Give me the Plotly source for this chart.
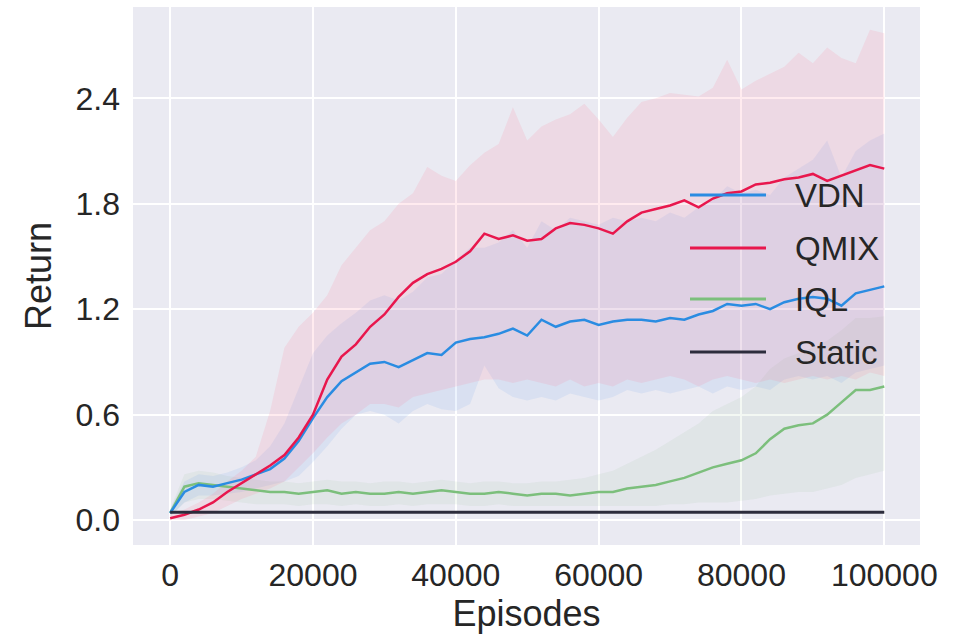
import plotly.graph_objects as go

# ---------------- data ----------------
episodes = [0, 2000, 4000, 6000, 8000, 10000, 12000, 14000, 16000, 18000,
            20000, 22000, 24000, 26000, 28000, 30000, 32000, 34000, 36000, 38000,
            40000, 42000, 44000, 46000, 48000, 50000, 52000, 54000, 56000, 58000,
            60000, 62000, 64000, 66000, 68000, 70000, 72000, 74000, 76000, 78000,
            80000, 82000, 84000, 86000, 88000, 90000, 92000, 94000, 96000, 98000,
            100000]

qmix_mean = [0.01, 0.03, 0.06, 0.10, 0.16, 0.21, 0.26, 0.31, 0.37, 0.47,
             0.60, 0.80, 0.93, 1.00, 1.10, 1.17, 1.27, 1.35, 1.40, 1.43,
             1.47, 1.53, 1.63, 1.60, 1.62, 1.59, 1.60, 1.66, 1.69, 1.68,
             1.66, 1.63, 1.70, 1.75, 1.77, 1.79, 1.82, 1.78, 1.83, 1.86,
             1.87, 1.91, 1.92, 1.94, 1.95, 1.97, 1.93, 1.96, 1.99, 2.02,
             2.00]
qmix_hi = [0.03, 0.06, 0.10, 0.15, 0.22, 0.28, 0.36, 0.62, 0.98, 1.10,
           1.18, 1.28, 1.45, 1.55, 1.65, 1.70, 1.80, 1.86, 2.01, 1.96,
           1.93, 2.02, 2.09, 2.14, 2.35, 2.16, 2.24, 2.28, 2.31, 2.37,
           2.28, 2.18, 2.29, 2.38, 2.40, 2.43, 2.42, 2.41, 2.46, 2.62,
           2.45, 2.50, 2.54, 2.58, 2.66, 2.60, 2.69, 2.63, 2.60, 2.79,
           2.77]
qmix_lo = [0.00, 0.00, 0.02, 0.04, 0.08, 0.12, 0.15, 0.18, 0.22, 0.30,
           0.38, 0.47, 0.55, 0.60, 0.66, 0.66, 0.64, 0.70, 0.72, 0.74,
           0.76, 0.78, 0.80, 0.80, 0.78, 0.80, 0.78, 0.76, 0.80, 0.76,
           0.78, 0.76, 0.80, 0.78, 0.80, 0.82, 0.80, 0.76, 0.80, 0.82,
           0.80, 0.78, 0.80, 0.78, 0.80, 0.82, 0.80, 0.82, 0.80, 0.84,
           0.82]

vdn_mean = [0.04, 0.16, 0.20, 0.19, 0.21, 0.23, 0.26, 0.29, 0.35, 0.45,
            0.58, 0.70, 0.79, 0.84, 0.89, 0.90, 0.87, 0.91, 0.95, 0.94,
            1.01, 1.03, 1.04, 1.06, 1.09, 1.05, 1.14, 1.10, 1.13, 1.14,
            1.11, 1.13, 1.14, 1.14, 1.13, 1.15, 1.14, 1.17, 1.19, 1.23,
            1.22, 1.23, 1.20, 1.24, 1.26, 1.27, 1.26, 1.22, 1.29, 1.31,
            1.33]
vdn_hi = [0.06, 0.22, 0.26, 0.25, 0.27, 0.30, 0.34, 0.42, 0.55, 0.75,
          0.95, 1.05, 1.12, 1.18, 1.25, 1.28, 1.25, 1.30, 1.38, 1.40,
          1.48, 1.55, 1.55, 1.58, 1.65, 1.55, 1.70, 1.65, 1.72, 1.70,
          1.68, 1.72, 1.70, 1.72, 1.70, 1.75, 1.72, 1.78, 1.82, 1.90,
          1.86, 1.88, 1.85, 1.95, 2.00, 2.05, 2.16, 1.95, 2.10, 2.16,
          2.20]
vdn_lo = [0.02, 0.10, 0.14, 0.14, 0.15, 0.16, 0.18, 0.20, 0.22, 0.25,
          0.33, 0.42, 0.52, 0.60, 0.62, 0.60, 0.55, 0.62, 0.66, 0.63,
          0.62, 0.66, 0.88, 0.75, 0.70, 0.68, 0.70, 0.68, 0.72, 0.70,
          0.68, 0.70, 0.74, 0.72, 0.74, 0.72, 0.74, 0.76, 0.72, 0.76,
          0.74, 0.76, 0.74, 0.80, 0.82, 0.80, 0.82, 0.78, 0.84, 0.86,
          0.88]

iql_mean = [0.04, 0.19, 0.21, 0.20, 0.19, 0.18, 0.17, 0.16, 0.16, 0.15,
            0.16, 0.17, 0.15, 0.16, 0.15, 0.15, 0.16, 0.15, 0.16, 0.17,
            0.16, 0.15, 0.15, 0.16, 0.15, 0.14, 0.15, 0.15, 0.14, 0.15,
            0.16, 0.16, 0.18, 0.19, 0.20, 0.22, 0.24, 0.27, 0.30, 0.32,
            0.34, 0.38, 0.46, 0.52, 0.54, 0.55, 0.60, 0.67, 0.74, 0.74,
            0.76]
iql_hi = [0.06, 0.26, 0.28, 0.27, 0.25, 0.24, 0.23, 0.22, 0.22, 0.21,
          0.22, 0.23, 0.22, 0.22, 0.21, 0.22, 0.22, 0.21, 0.22, 0.23,
          0.22, 0.21, 0.22, 0.22, 0.21, 0.21, 0.22, 0.22, 0.23, 0.24,
          0.26, 0.28, 0.32, 0.36, 0.40, 0.45, 0.50, 0.55, 0.62, 0.66,
          0.70, 0.76, 0.86, 0.92, 0.95, 0.98, 1.02, 1.08, 1.15, 1.15,
          1.16]
iql_lo = [0.02, 0.10, 0.12, 0.12, 0.11, 0.10, 0.09, 0.09, 0.09, 0.08,
          0.09, 0.09, 0.08, 0.09, 0.08, 0.08, 0.09, 0.08, 0.09, 0.09,
          0.09, 0.08, 0.08, 0.09, 0.08, 0.08, 0.08, 0.08, 0.08, 0.08,
          0.08, 0.08, 0.08, 0.08, 0.08, 0.09, 0.09, 0.10, 0.10, 0.10,
          0.11, 0.12, 0.14, 0.15, 0.16, 0.16, 0.18, 0.20, 0.24, 0.26,
          0.28]

static_x = [0, 100000]
static_y = [0.045, 0.045]

series_names = ["VDN", "QMIX", "IQL", "Static"]
x_ticks = [0, 20000, 40000, 60000, 80000, 100000]
y_ticks = [0.0, 0.6, 1.2, 1.8, 2.4]
y_tick_labels = ["0.0", "0.6", "1.2", "1.8", "2.4"]

# ---------------- styles ----------------
C_VDN = "#2a8ce2"
C_QMIX = "#e8174d"
C_IQL = "#7cbf7c"
C_STATIC = "#2c2c3c"
TXT = "#262626"
FONT = "Liberation Sans, Arial, sans-serif"

fig = go.Figure()


def band(x, lo, hi, color):
    fig.add_trace(go.Scatter(x=x, y=lo, mode="lines", line=dict(width=0),
                             showlegend=False, hoverinfo="skip"))
    fig.add_trace(go.Scatter(x=x, y=hi, mode="lines", line=dict(width=0),
                             fill="tonexty", fillcolor=color,
                             showlegend=False, hoverinfo="skip"))


band(episodes, iql_lo, iql_hi, "rgba(140,190,140,0.10)")
band(episodes, vdn_lo, vdn_hi, "rgba(80,150,235,0.11)")
band(episodes, qmix_lo, qmix_hi, "rgba(255,120,150,0.15)")

fig.add_trace(go.Scatter(x=episodes, y=iql_mean, mode="lines", name="IQL",
                         line=dict(color=C_IQL, width=2.5), showlegend=False))
fig.add_trace(go.Scatter(x=episodes, y=vdn_mean, mode="lines", name="VDN",
                         line=dict(color=C_VDN, width=2.5), showlegend=False))
fig.add_trace(go.Scatter(x=episodes, y=qmix_mean, mode="lines", name="QMIX",
                         line=dict(color=C_QMIX, width=2.5), showlegend=False))
fig.add_trace(go.Scatter(x=static_x, y=static_y, mode="lines", name="Static",
                         line=dict(color=C_STATIC, width=3), showlegend=False))

# ---------------- layout ----------------
L, R, T, B = 133, 35, 7, 92
W, H = 955, 637
pw, ph = W - L - R, H - T - B


def px_x(p):
    return (p - L) / pw


def px_y(p):
    return (H - B - p) / ph


fig.update_layout(
    width=W, height=H,
    margin=dict(l=L, r=R, t=T, b=B, pad=0),
    paper_bgcolor="white",
    plot_bgcolor="#EAEAF2",
    font=dict(family=FONT, color=TXT, size=32),
    showlegend=False,
    xaxis=dict(range=[-5200, 105000], tickvals=x_ticks,
               ticktext=[str(v) for v in x_ticks],
               showgrid=True, gridcolor="white", gridwidth=2,
               zeroline=False, showline=False, ticks="",
               tickfont=dict(size=32, color=TXT), ticklabelstandoff=8,
               title=dict(text="Episodes", font=dict(size=36, color=TXT), standoff=2)),
    yaxis=dict(range=[-0.142, 2.92], tickvals=y_ticks, ticktext=y_tick_labels,
               showgrid=True, gridcolor="white", gridwidth=2,
               zeroline=False, showline=False, ticks="",
               tickfont=dict(size=32, color=TXT), ticklabelstandoff=12,
               title=dict(text="Return", font=dict(size=36, color=TXT), standoff=12)),
)

# manual legend (line samples + labels), drawn above the data
legend_colors = [C_VDN, C_QMIX, C_IQL, C_STATIC]
legend_rows = [195, 248, 299, 352]
for name, col, yy in zip(series_names, legend_colors, legend_rows):
    fig.add_shape(type="line", xref="paper", yref="paper",
                  x0=px_x(690), x1=px_x(766), y0=px_y(yy), y1=px_y(yy),
                  line=dict(color=col, width=3), layer="above")
    fig.add_annotation(xref="paper", yref="paper", x=px_x(793), y=px_y(yy),
                       text=name, showarrow=False, xanchor="left", yanchor="middle",
                       font=dict(size=33, color=TXT, family=FONT))

fig.write_html("out.html")
